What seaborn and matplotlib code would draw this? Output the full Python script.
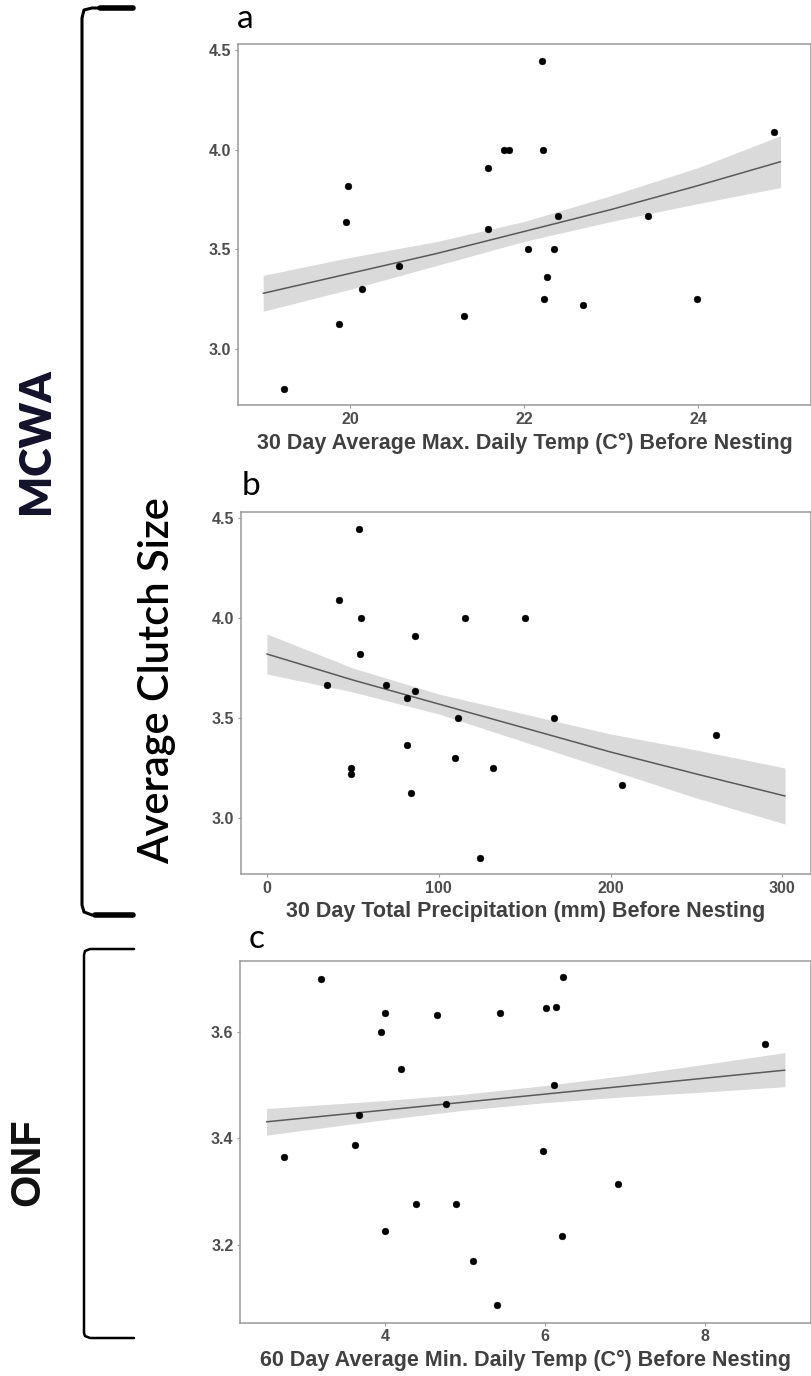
import matplotlib
import matplotlib.pyplot as plt
import seaborn as sns
import numpy as np
from matplotlib.lines import Line2D

matplotlib.use("Agg")

# --- data ---
# panel a: 30 day average max daily temp vs clutch size (MCWA)
temp_max_a = [19.24, 19.87, 19.95, 19.98, 20.14, 20.56, 21.31, 21.58, 21.59, 21.77, 21.83,
              22.04, 22.21, 22.22, 22.23, 22.26, 22.35, 22.39, 22.68, 23.42, 23.99, 24.88]
clutch_a = [2.8, 3.125, 3.636, 3.818, 3.3, 3.417, 3.167, 3.909, 3.6, 4.0, 4.0,
            3.5, 4.444, 4.0, 3.25, 3.364, 3.5, 3.667, 3.222, 3.667, 3.25, 4.091]
fit_a_x = [19.0, 20.0, 21.0, 22.0, 23.0, 24.0, 24.95]
fit_a_y = [3.28, 3.38, 3.48, 3.59, 3.70, 3.82, 3.94]
fit_a_lo = [3.19, 3.30, 3.42, 3.54, 3.64, 3.73, 3.81]
fit_a_hi = [3.37, 3.46, 3.54, 3.64, 3.77, 3.91, 4.07]

# panel b: 30 day total precipitation vs clutch size (MCWA)
precip_b = [53.8, 42.1, 54.5, 115.4, 150.0, 86.3, 54.0, 35.0, 69.4, 86.3, 81.8,
            111.3, 167.2, 261.5, 81.8, 109.7, 48.8, 49.2, 131.7, 206.5, 83.8, 124.3]
clutch_b = [4.444, 4.091, 4.0, 4.0, 4.0, 3.909, 3.818, 3.667, 3.667, 3.636, 3.6,
            3.5, 3.5, 3.417, 3.364, 3.3, 3.25, 3.222, 3.25, 3.167, 3.125, 2.8]
fit_b_x = [0, 50, 100, 150, 200, 250, 301.6]
fit_b_y = [3.82, 3.69, 3.57, 3.45, 3.33, 3.22, 3.11]
fit_b_lo = [3.72, 3.63, 3.52, 3.38, 3.24, 3.10, 2.97]
fit_b_hi = [3.92, 3.75, 3.62, 3.52, 3.42, 3.34, 3.25]

# panel c: 60 day average min daily temp vs clutch size (ONF)
temp_min_c = [3.195, 6.232, 3.995, 3.956, 4.657, 5.442, 6.015, 6.143, 8.75, 4.207, 6.114, 4.76,
              3.674, 3.625, 2.741, 5.97, 6.909, 4.385, 4.884, 3.995, 6.212, 5.106, 5.407]
clutch_c = [3.70, 3.703, 3.636, 3.60, 3.631, 3.636, 3.644, 3.647, 3.578, 3.531, 3.501, 3.464,
            3.443, 3.388, 3.365, 3.377, 3.315, 3.276, 3.276, 3.226, 3.217, 3.169, 3.087]
fit_c_x = [2.52, 4.0, 5.0, 6.0, 7.0, 8.0, 9.0]
fit_c_y = [3.431, 3.453, 3.468, 3.483, 3.498, 3.513, 3.528]
fit_c_lo = [3.406, 3.435, 3.453, 3.467, 3.478, 3.487, 3.497]
fit_c_hi = [3.456, 3.471, 3.483, 3.499, 3.518, 3.539, 3.561]

xlabels = ["30 Day Average Max. Daily Temp (C\u00b0) Before Nesting",
           "30 Day Total Precipitation (mm) Before Nesting",
           "60 Day Average Min. Daily Temp (C\u00b0) Before Nesting"]

sns.set_theme(style="white")
plt.rcParams["font.family"] = ["Liberation Sans", "DejaVu Sans"]

W, H = 812, 1376
fig = plt.figure(figsize=(W / 100, H / 100), dpi=100)

# overlay in pixel coordinates for brackets / side labels
ov = fig.add_axes([0, 0, 1, 1])
ov.set_xlim(0, W)
ov.set_ylim(H, 0)
ov.axis("off")


def box(left, top, right, bottom):
    return [left / W, 1 - bottom / H, (right - left) / W, (bottom - top) / H]


panels = [
    dict(rect=box(238, 44, 811, 405), x=temp_max_a, y=clutch_a,
         fx=fit_a_x, fy=fit_a_y, lo=fit_a_lo, hi=fit_a_hi,
         xlim=(18.71, 25.30), ylim=(2.72, 4.53), xt=[20, 22, 24], yt=[3.0, 3.5, 4.0, 4.5],
         letter="a", lpos=(245, 19)),
    dict(rect=box(241, 512, 811, 874), x=precip_b, y=clutch_b,
         fx=fit_b_x, fy=fit_b_y, lo=fit_b_lo, hi=fit_b_hi,
         xlim=(-15.08, 316.7), ylim=(2.72, 4.53), xt=[0, 100, 200, 300], yt=[3.0, 3.5, 4.0, 4.5],
         letter="b", lpos=(251, 486)),
    dict(rect=box(240.5, 960.5, 811, 1322.5), x=temp_min_c, y=clutch_c,
         fx=fit_c_x, fy=fit_c_y, lo=fit_c_lo, hi=fit_c_hi,
         xlim=(2.195, 9.326), ylim=(3.054, 3.734), xt=[4, 6, 8], yt=[3.2, 3.4, 3.6],
         letter="c", lpos=(257, 939)),
]

for p, xl in zip(panels, xlabels):
    ax = fig.add_axes(p["rect"])
    ax.fill_between(p["fx"], p["lo"], p["hi"], color="#dadada", lw=0, zorder=1)
    sns.lineplot(x=p["fx"], y=p["fy"], color="#5a5a5a", linewidth=1.1, ax=ax, zorder=2)
    sns.scatterplot(x=p["x"], y=p["y"], color="black", s=24, edgecolor="black",
                    linewidth=0.3, ax=ax, zorder=3)
    ax.set_xlim(*p["xlim"])
    ax.set_ylim(*p["ylim"])
    ax.set_xticks(p["xt"])
    ax.set_xticklabels([str(v) for v in p["xt"]])
    ax.set_yticks(p["yt"])
    ax.set_yticklabels(["{:.1f}".format(v) for v in p["yt"]])
    for s in ax.spines.values():
        s.set_color("#9a9a9a")
        s.set_linewidth(1.1)
    ax.tick_params(axis="both", which="both", bottom=True, left=True, length=2.5, width=0.8,
                   color="#9a9a9a", pad=2.5, labelsize=11.5, labelcolor="#4d4d4d")
    for lab in ax.get_xticklabels() + ax.get_yticklabels():
        lab.set_fontweight("bold")
    ax.set_xlabel(xl, fontsize=15.5, fontweight="bold", color="#404040", labelpad=4)
    ax.set_ylabel("")
    ax.grid(False)
    ov.text(p["lpos"][0], p["lpos"][1], p["letter"], ha="center", va="center",
            fontsize=24, family=["Lato", "DejaVu Sans"], color="black")

# brackets
ov.add_line(Line2D([133, 92, 84, 82, 82, 84, 92, 133], [8, 8, 10, 18, 905, 912, 915, 915],
                   color="black", lw=2.2, solid_capstyle="butt", solid_joinstyle="round"))
ov.add_line(Line2D([100, 133], [8, 8], color="black", lw=4))
ov.add_line(Line2D([95, 133], [915, 915], color="black", lw=4))
ov.add_line(Line2D([134, 90, 85, 84, 84, 85, 90, 134], [949, 949, 951, 955, 1333, 1336, 1338, 1338],
                   color="black", lw=1.8, solid_joinstyle="round"))

ov.text(36, 441, "MCWA", rotation=90, ha="center", va="center", fontsize=31,
        fontweight="heavy", family=["Lato", "DejaVu Sans"], color="#12122a")
ov.text(28, 1162, "ONF", rotation=90, ha="center", va="center", fontsize=30,
        fontweight="bold", color="#111111")
ov.text(157, 681, "Average Clutch Size", rotation=90, ha="center", va="center", fontsize=30,
        fontweight="semibold", family=["Lato", "DejaVu Sans"], color="black")

fig.savefig("out.png", dpi=100)
